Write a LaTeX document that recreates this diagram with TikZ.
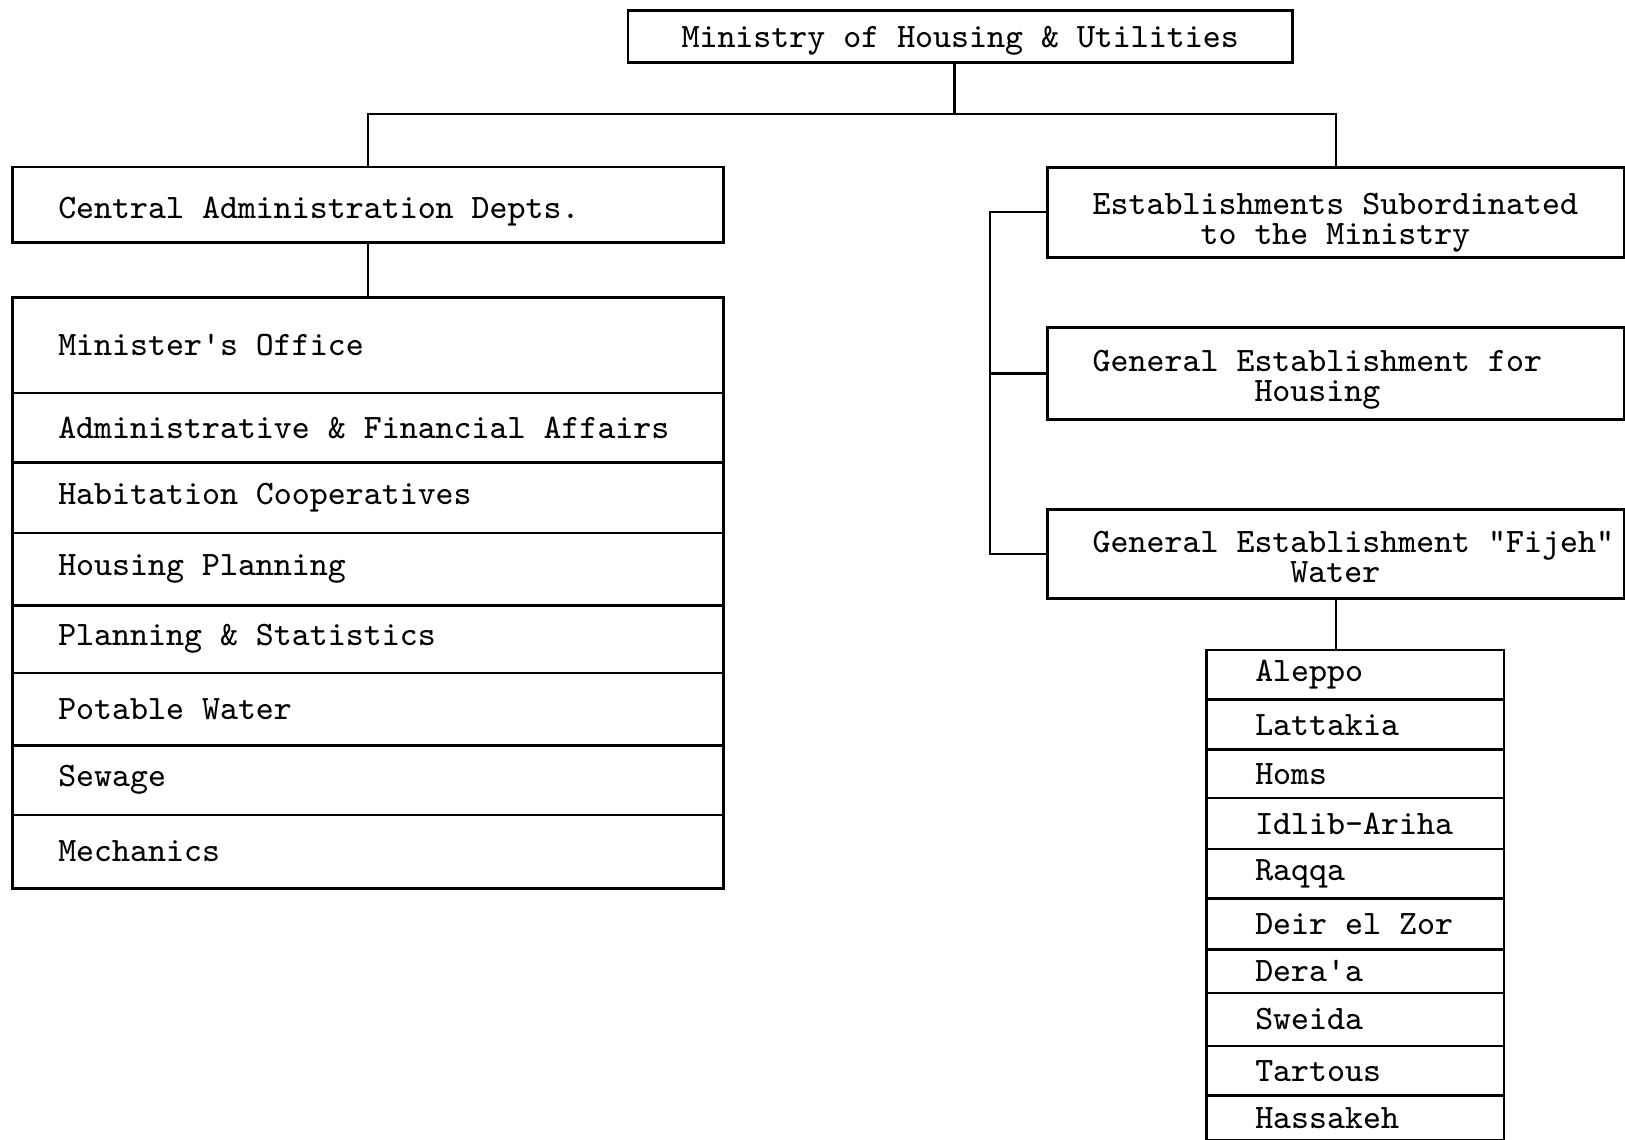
\documentclass[tikz,border=0pt]{standalone}
\usepackage{tikz}
\usetikzlibrary{positioning, calc}
\newcommand{\orgfont}{\fontsize{9.4}{8.3}\selectfont\ttfamily}
\tikzset{
  unit/.style={draw, line width=0.8pt, font=\orgfont, align=center, inner sep=0pt, anchor=north west},
  estbox/.style={unit, minimum width=55.7mm, text width=46.9mm, inner xsep=4.4mm, align=flush left},
  deptrow/.style={draw, line width=0.7pt, font=\orgfont, anchor=north west, minimum width=68.6mm, text width=59.8mm, inner xsep=4.4mm, inner ysep=0pt, align=flush left},
  cityrow/.style={draw, line width=0.7pt, font=\orgfont, anchor=north west, minimum width=28.7mm, text width=19.3mm, inner xsep=4.7mm, inner ysep=0pt, align=flush left},
  textdrop/.style={execute at begin node={\rule{0pt}{#1}}},
  link/.style={line width=0.6pt},
}

\begin{document}
\begin{tikzpicture}[x=0.1mm, y=-0.1mm]
  \useasboundingbox (0,0) rectangle (1568,1100);
  % ministry at the top, two branches below
  \node[unit, anchor=center, minimum width=64.1mm, minimum height=5mm, textdrop=3mm] (minist) at (926.5,35) {Ministry of Housing \& Utilities};
  \node[deptrow, minimum height=7.3mm, textdrop=3.4mm] (central) at (11,160) {Central Administration Depts.};
  \node[estbox, minimum height=8.7mm, textdrop=4mm] (estab) at (1009,160) {Establishments Subordinated\\\hspace*{3.15em}to the Ministry};
  \node[estbox, minimum height=8.8mm, textdrop=3.2mm] (house) at (1009,315) {General Establishment for\\\hspace*{4.725em}Housing};
  \node[estbox, minimum height=8.6mm, textdrop=2.7mm] (fijeh) at (1009,490) {\mbox{General Establishment \textquotedbl Fijeh\textquotedbl}\\\hspace*{5.775em}Water};
  \coordinate (bus) at (921,110);
  \coordinate (brace) at (955,203);

  % departments of the central administration
  \foreach \i/\ya/\yb/\txt in {1/286/378/Minister\textquotesingle s Office, 2/378/445/Administrative \& Financial Affairs,
      3/445/513/Habitation Cooperatives, 4/513/583/Housing Planning, 5/583/648/Planning \& Statistics,
      6/648/718/Potable Water, 7/718/785/Sewage, 8/785/856/Mechanics}
    \node[deptrow, minimum height={(\yb-\ya)*0.1mm}] (dept\i) at (11,\ya) {\txt};

  % branches of the Fijeh water establishment
  \foreach \i/\ya/\yb/\txt in {1/626/674/Aleppo, 2/674/722/Lattakia, 3/722/769/Homs, 4/769/818/Idlib-Ariha,
      5/818/866/Raqqa, 6/866/915/Deir el Zor, 7/915/957/Dera\textquotesingle a, 8/957/1008/Sweida,
      9/1008/1056/Tartous, 10/1056/1099/Hassakeh}
    \node[cityrow, minimum height={(\yb-\ya)*0.1mm}] (city\i) at (1163,\ya) {\txt};

  \draw[link] (minist.south -| bus) -- (bus);
  \draw[link] (bus) -| (central.north);
  \draw[link] (bus) -| (estab.north);
  \draw[link] (central) -- (dept1);
  \draw[link] (estab.west) -- (estab.west -| brace) |- (fijeh.west);
  \draw[link] (house.west) -- (house.west -| brace);
  \draw[link] (fijeh.south) -- (fijeh.south |- city1.north);
\end{tikzpicture}
\end{document}
